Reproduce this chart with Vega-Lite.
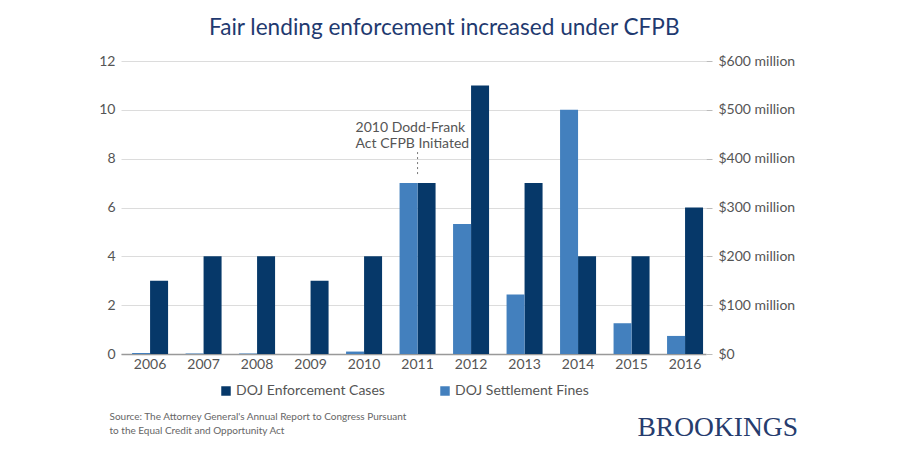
{
  "$schema": "https://vega.github.io/schema/vega-lite/v6.json",
  "width": 585,
  "height": 293,
  "autosize": {"type": "none"},
  "padding": {"left": 121, "top": 61, "right": 194, "bottom": 106},
  "background": "white",
  "title": {
    "text": "Fair lending enforcement increased under CFPB",
    "anchor": "start",
    "frame": "group",
    "dx": 88,
    "offset": 14,
    "font": "Lato",
    "fontSize": 22.6,
    "fontWeight": "normal",
    "color": "#1f3a70"
  },
  "config": {
    "view": {"stroke": null},
    "font": "Lato",
    "axis": {"labelFont": "Lato", "labelFontSize": 14, "labelColor": "#555555"}
  },
  "data": {
    "values": [
      {"year": "2006", "series": "DOJ Enforcement Cases", "value": 3},
      {"year": "2007", "series": "DOJ Enforcement Cases", "value": 4},
      {"year": "2008", "series": "DOJ Enforcement Cases", "value": 4},
      {"year": "2009", "series": "DOJ Enforcement Cases", "value": 3},
      {"year": "2010", "series": "DOJ Enforcement Cases", "value": 4},
      {"year": "2011", "series": "DOJ Enforcement Cases", "value": 7},
      {"year": "2012", "series": "DOJ Enforcement Cases", "value": 11},
      {"year": "2013", "series": "DOJ Enforcement Cases", "value": 7},
      {"year": "2014", "series": "DOJ Enforcement Cases", "value": 4},
      {"year": "2015", "series": "DOJ Enforcement Cases", "value": 4},
      {"year": "2016", "series": "DOJ Enforcement Cases", "value": 6},
      {"year": "2006", "series": "DOJ Settlement Fines", "value": 2},
      {"year": "2007", "series": "DOJ Settlement Fines", "value": 1},
      {"year": "2008", "series": "DOJ Settlement Fines", "value": 1},
      {"year": "2009", "series": "DOJ Settlement Fines", "value": 0},
      {"year": "2010", "series": "DOJ Settlement Fines", "value": 5},
      {"year": "2011", "series": "DOJ Settlement Fines", "value": 350},
      {"year": "2012", "series": "DOJ Settlement Fines", "value": 266},
      {"year": "2013", "series": "DOJ Settlement Fines", "value": 122},
      {"year": "2014", "series": "DOJ Settlement Fines", "value": 500},
      {"year": "2015", "series": "DOJ Settlement Fines", "value": 63},
      {"year": "2016", "series": "DOJ Settlement Fines", "value": 37}
    ]
  },
  "encoding": {
    "x": {
      "field": "year",
      "type": "nominal",
      "scale": {"paddingInner": 0.327, "paddingOuter": 0.131, "align": 0.79},
      "axis": {
        "labelAngle": 0,
        "ticks": false,
        "domain": true,
        "domainColor": "#999999",
        "domainWidth": 1.5,
        "labelPadding": 3,
        "title": ["Source: The Attorney General's Annual Report to Congress Pursuant", "to the Equal Credit and Opportunity Act"],
        "titleFont": "Lato",
        "titleFontSize": 10,
        "titleFontWeight": "normal",
        "titleColor": "#666666",
        "titleAnchor": "start",
        "titleAlign": "left",
        "titleBaseline": "top",
        "titleX": -12,
        "titleY": 57,
        "titleLineHeight": 14
      }
    }
  },
  "layer": [
    {
      "layer": [
        {
          "transform": [{"filter": "datum.series === 'DOJ Enforcement Cases'"}],
          "mark": {"type": "bar"},
          "encoding": {
            "y": {
              "field": "value",
              "type": "quantitative",
              "scale": {"domain": [0, 12], "nice": false},
              "axis": {
                "title": null,
                "values": [0, 2, 4, 6, 8, 10, 12],
                "grid": true,
                "gridColor": "#dcdcdc",
                "domain": false,
                "ticks": false,
                "labelPadding": 6
              }
            },
            "xOffset": {"field": "series", "type": "nominal", "scale": {"domain": ["DOJ Settlement Fines", "DOJ Enforcement Cases"], "paddingInner": 0, "paddingOuter": 0}},
            "color": {
              "field": "series",
              "type": "nominal",
              "scale": {"domain": ["DOJ Enforcement Cases", "DOJ Settlement Fines"], "range": ["#063869", "#4380be"]},
              "legend": {
                "title": null,
                "orient": "none",
                "legendX": 98,
                "legendY": 323,
                "direction": "horizontal",
                "columns": 2,
                "columnPadding": 53,
                "symbolType": "square",
                "symbolSize": 90,
                "symbolStrokeWidth": 0,
                "labelFont": "Lato",
                "labelFontSize": 14,
                "labelColor": "#555555",
                "labelOffset": 3
              }
            }
          }
        },
        {
          "data": {"values": [{"year": "2011", "label": "2010 Dodd-Frank\nAct CFPB Initiated"}]},
          "mark": {"type": "text", "align": "left", "baseline": "alphabetic", "dx": -62, "lineBreak": "\n", "lineHeight": 16, "font": "Lato", "fontSize": 14, "color": "#555555"},
          "encoding": {
            "y": {"datum": 9.1, "type": "quantitative"},
            "text": {"field": "label"}
          }
        },
        {
          "data": {"values": [{"year": "2011", "y1": 8.27, "y2": 7.25}]},
          "mark": {"type": "rule", "strokeDash": [2, 3], "color": "#777777", "strokeWidth": 1},
          "encoding": {
            "y": {"field": "y1", "type": "quantitative"},
            "y2": {"field": "y2"}
          }
        }
      ]
    },
    {
      "transform": [{"filter": "datum.series === 'DOJ Settlement Fines'"}],
      "mark": {"type": "bar"},
      "encoding": {
        "y": {
          "field": "value",
          "type": "quantitative",
          "scale": {"domain": [0, 600], "nice": false},
          "axis": {
            "orient": "right",
            "values": [0, 100, 200, 300, 400, 500, 600],
            "grid": false,
            "domain": false,
            "ticks": true,
            "tickColor": "#bbbbbb",
            "tickSize": 6,
            "labelPadding": 6,
            "labelExpr": "datum.value == 0 ? '$0' : '$' + datum.value + ' million'",
            "title": "BROOKINGS",
            "titleAngle": 0,
            "titleFont": "Liberation Serif",
            "titleFontSize": 27.5,
            "titleFontWeight": "normal",
            "titleColor": "#263c6e",
            "titleAlign": "left",
            "titleBaseline": "alphabetic",
            "titleX": -69,
            "titleY": 374
          }
        },
        "xOffset": {"field": "series", "type": "nominal"},
        "color": {"field": "series", "type": "nominal"}
      }
    }
  ],
  "resolve": {"scale": {"y": "independent"}}
}
